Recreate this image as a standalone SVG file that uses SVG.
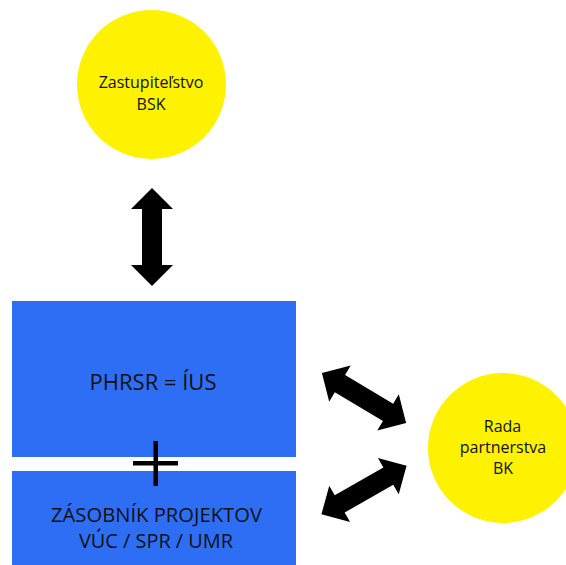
<svg xmlns="http://www.w3.org/2000/svg" width="566" height="565" viewBox="0 0 566 565">
  <defs>
    <path id="dbl-arrow" d="M -49,0 L -28,-21 L -28,-10 L 28,-10 L 28,-21 L 49,0 L 28,21 L 28,10 L -28,10 L -28,21 Z"/>
  </defs>
  <style>
    .circle { fill: #fff200; }
    .box { fill: #2e6ef5; }
    .lbl { font-family: "Open Sans", "Noto Sans", sans-serif; fill: #111; text-anchor: middle; font-weight: 500; }
    .small { font-size: 16px; }
    .big { font-size: 22px; }
    .mid { font-size: 20px; }
    .arrow { fill: #000; }
  </style>
  <rect width="566" height="565" fill="#ffffff"/>

  <g id="node-zastupitelstvo">
    <circle class="circle" cx="151.5" cy="84.5" r="74.5"/>
    <text class="lbl small" x="151" y="88">Zastupiteľstvo</text>
    <text class="lbl small" x="151" y="110">BSK</text>
  </g>

  <g id="node-phrsr">
    <rect class="box" x="12" y="301" width="284" height="156"/>
    <text class="lbl big" x="153" y="390">PHRSR = ÍUS</text>
  </g>

  <g id="node-zasobnik">
    <rect class="box" x="12" y="471" width="284" height="94"/>
    <text class="lbl mid" x="156.5" y="522" textLength="211" lengthAdjust="spacingAndGlyphs">ZÁSOBNÍK PROJEKTOV</text>
    <text class="lbl mid" x="156" y="548" textLength="154" lengthAdjust="spacingAndGlyphs">VÚC / SPR / UMR</text>
  </g>

  <g id="plus">
    <rect x="133" y="461" width="45" height="4.5" fill="#000"/>
    <rect x="153.5" y="441" width="4.5" height="45" fill="#000"/>
  </g>

  <g id="node-rada">
    <circle class="circle" cx="503" cy="448" r="75"/>
    <text class="lbl small" x="502.5" y="432">Rada</text>
    <text class="lbl small" x="503" y="453">partnerstva</text>
    <text class="lbl small" x="503" y="474">BK</text>
  </g>

  <g id="connectors">
    <use href="#dbl-arrow" class="arrow" transform="translate(152,237) rotate(90)"/>
    <use href="#dbl-arrow" class="arrow" transform="translate(364,398) rotate(30.8)"/>
    <use href="#dbl-arrow" class="arrow" transform="translate(364,490) rotate(-29.7)"/>
  </g>
</svg>
